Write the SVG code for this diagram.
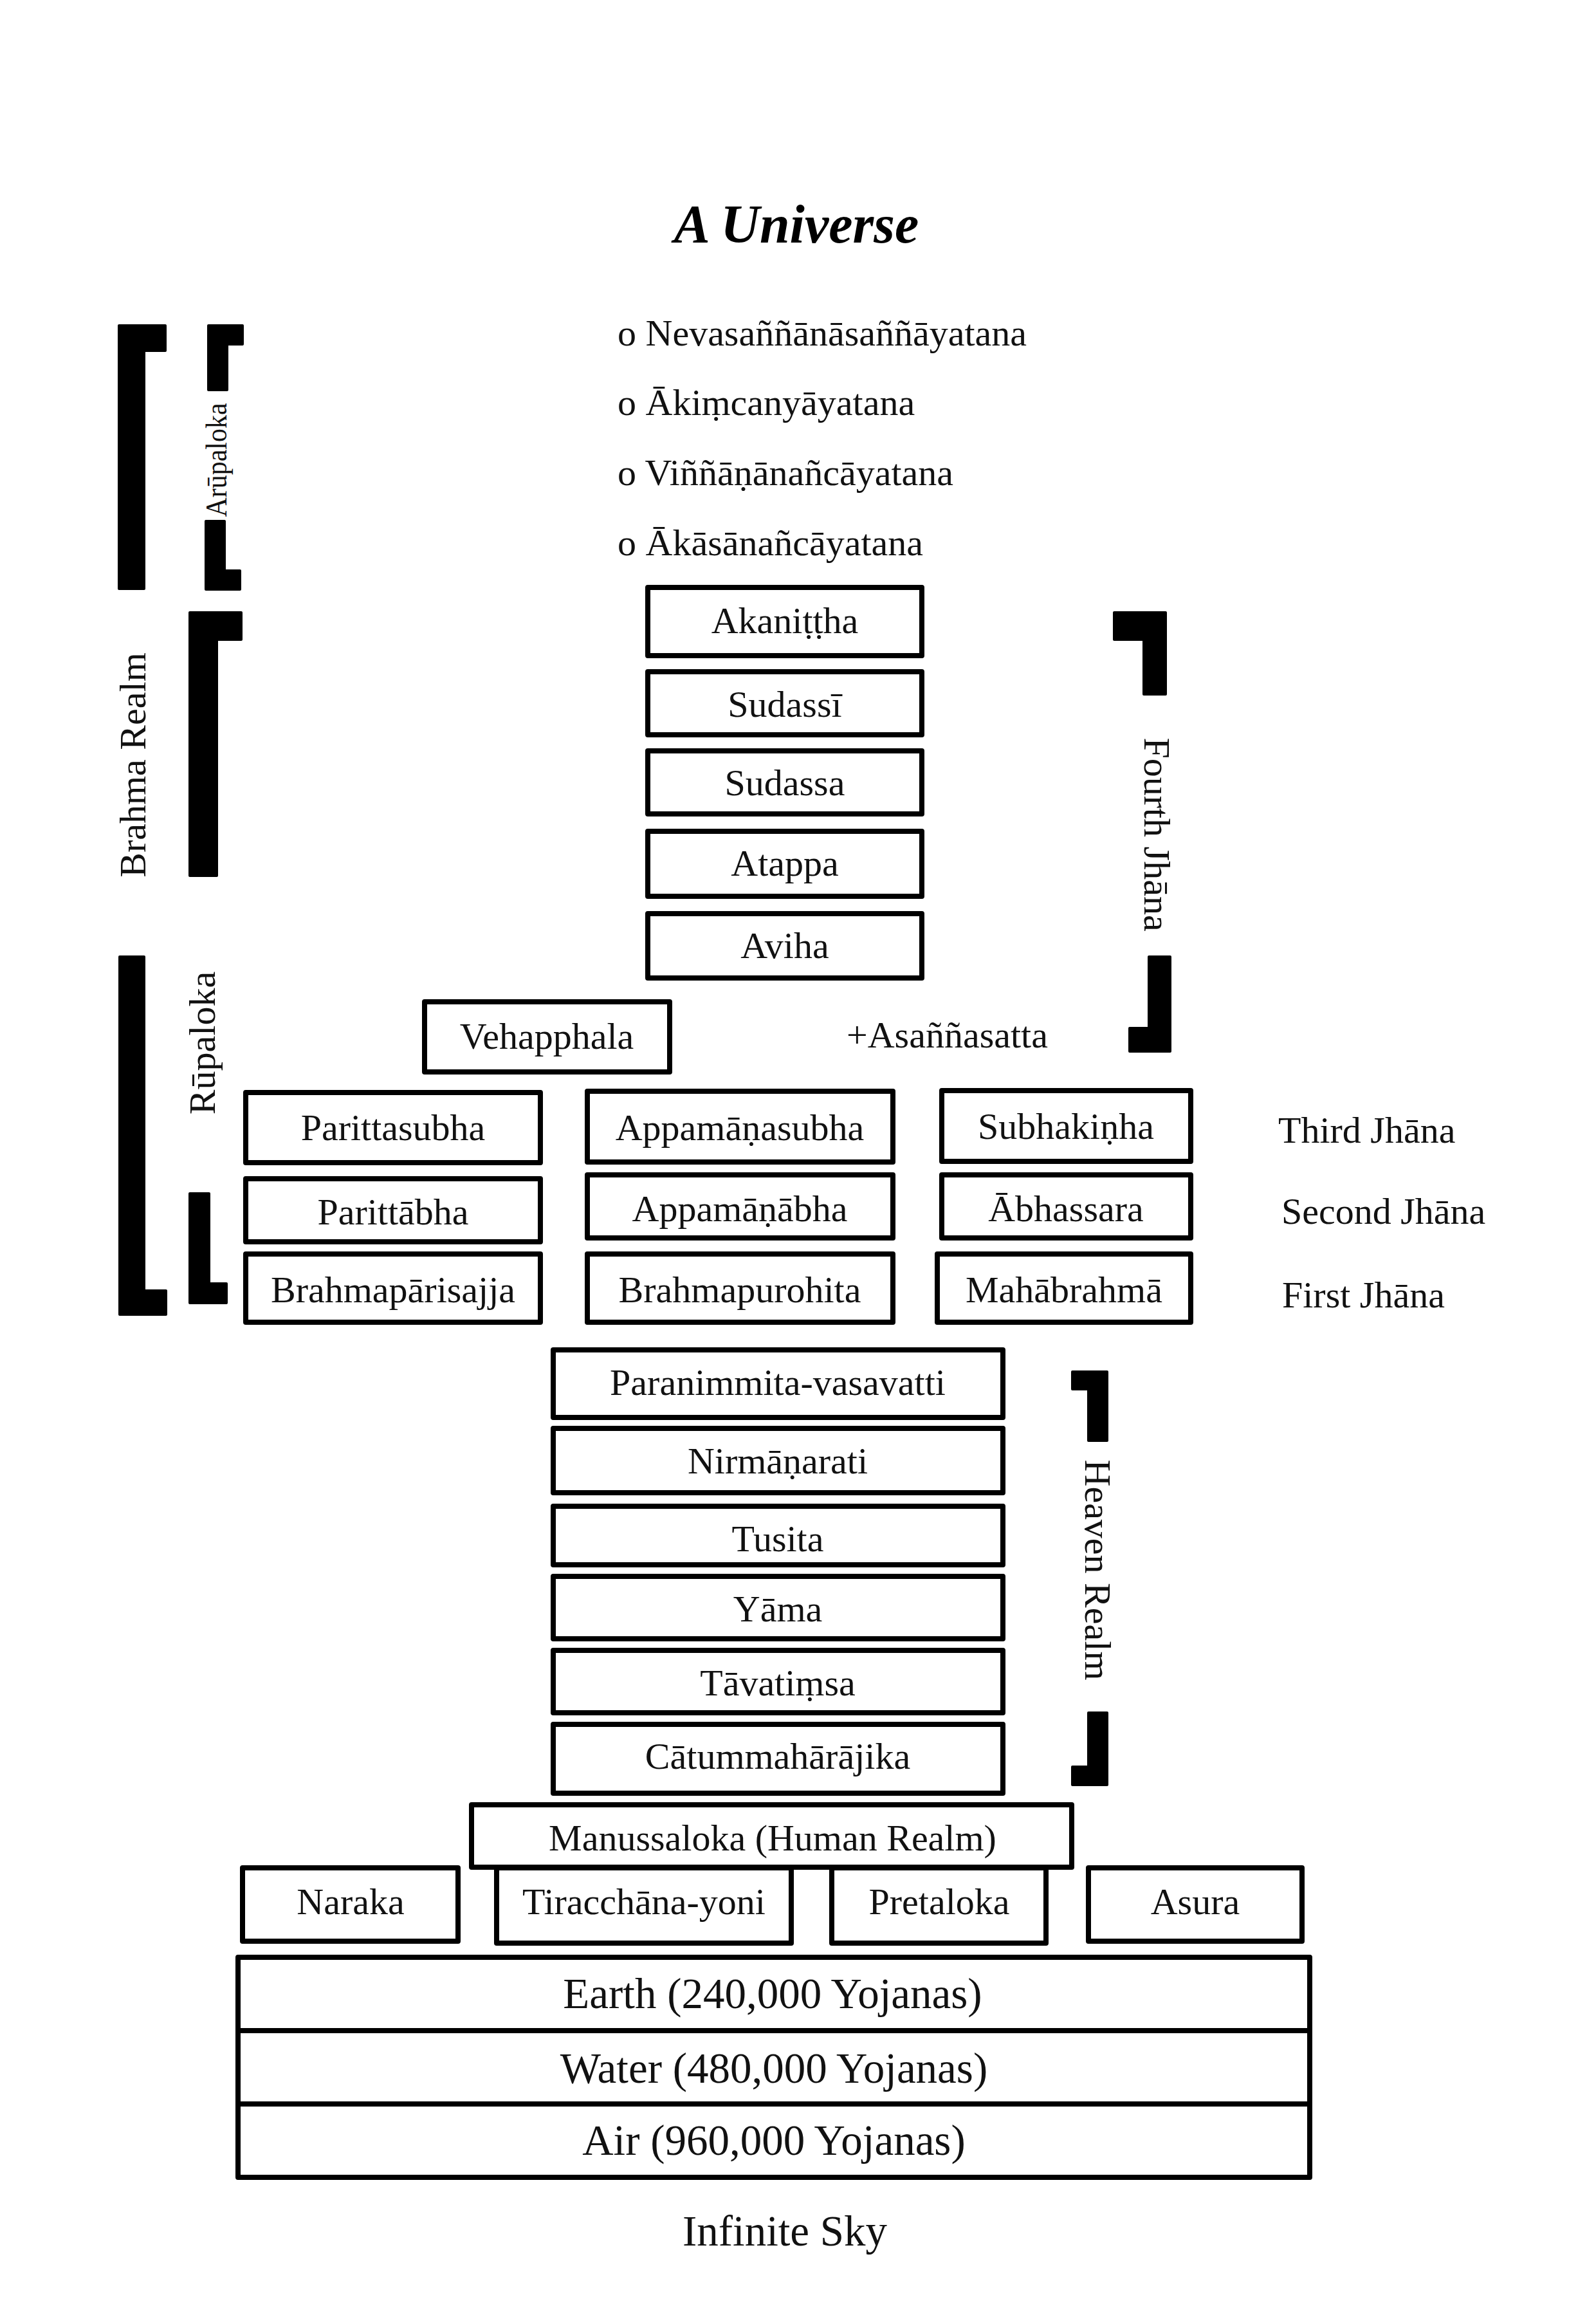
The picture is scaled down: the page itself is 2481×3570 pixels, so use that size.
<svg xmlns="http://www.w3.org/2000/svg" width="2481" height="3570" viewBox="0 0 2481 3570">
<style>
text{font-family:"Liberation Serif","Times New Roman",serif;fill:#111;font-size:58px}
.c{text-anchor:middle}
.big{font-size:67px}
.box{fill:#fff;stroke:#000;stroke-width:8;stroke-linejoin:round}
.br{fill:#000;stroke:#000;stroke-width:4;stroke-linejoin:round}
.title{font-size:84px;font-weight:bold;font-style:italic;text-anchor:middle;fill:#000}
</style>
<rect width="2481" height="3570" fill="#fff"/>
<text id="title" class="title" x="1238" y="377">A Universe</text>

<g id="arupa-list">
<text x="960" y="537">o Nevasaññānāsaññāyatana</text>
<text x="960" y="645">o Ākiṃcanyāyatana</text>
<text x="960" y="754">o Viññāṇānañcāyatana</text>
<text x="960" y="863">o Ākāsānañcāyatana</text>
</g>

<g id="brackets">
<polygon class="br" points="185,506 257,506 257,545 224,545 224,915 185,915"/>
<polygon class="br" points="324,506 377,506 377,535 353,535 353,606 324,606"/>
<polygon class="br" points="320,810 349,810 349,887 373,887 373,916 320,916"/>
<polygon class="br" points="295,952 375,952 375,994 337,994 337,1361 295,1361"/>
<polygon class="br" points="186,1487 224,1487 224,2006 258,2006 258,2043 186,2043"/>
<polygon class="br" points="295,1855 325,1855 325,1995 352,1995 352,2025 295,2025"/>
<polygon class="br" points="1732,952 1812,952 1812,1079 1778,1079 1778,994 1732,994"/>
<polygon class="br" points="1786,1487 1819,1487 1819,1634 1756,1634 1756,1598 1786,1598"/>
<polygon class="br" points="1667,2132 1721,2132 1721,2239 1692,2239 1692,2159 1667,2159"/>
<polygon class="br" points="1692,2662 1721,2662 1721,2774 1667,2774 1667,2746 1692,2746"/>
</g>

<g id="bracket-labels">
<text class="c" transform="translate(226,1189) rotate(-90)">Brahma Realm</text>
<text class="c" transform="translate(352,715) rotate(-90)" style="font-size:47px" textLength="177" lengthAdjust="spacingAndGlyphs">Arūpaloka</text>
<text class="c" transform="translate(334,1621) rotate(-90)">Rūpaloka</text>
<text class="c" transform="translate(1779,1297) rotate(90)">Fourth Jhāna</text>
<text class="c" transform="translate(1687,2440) rotate(90)">Heaven Realm</text>
</g>

<g id="akanittha"><rect class="box" x="1007" y="913" width="426" height="106"/><text class="c" x="1220" y="984">Akaniṭṭha</text></g>
<g id="sudassi"><rect class="box" x="1007" y="1044" width="426" height="98"/><text class="c" x="1220" y="1114">Sudassī</text></g>
<g id="sudassa"><rect class="box" x="1007" y="1167" width="426" height="98"/><text class="c" x="1220" y="1236">Sudassa</text></g>
<g id="atappa"><rect class="box" x="1007" y="1292" width="426" height="101"/><text class="c" x="1220" y="1361">Atappa</text></g>
<g id="aviha"><rect class="box" x="1007" y="1420" width="426" height="100"/><text class="c" x="1220" y="1489">Aviha</text></g>

<g id="vehapphala"><rect class="box" x="660" y="1557" width="381" height="109"/><text class="c" x="850" y="1630">Vehapphala</text></g>
<g id="asannasatta"><text x="1316" y="1628">+Asaññasatta</text></g>

<g id="parittasubha"><rect class="box" x="382" y="1698" width="458" height="109"/><text class="c" x="611" y="1772">Parittasubha</text></g>
<g id="appamanasubha"><rect class="box" x="913" y="1696" width="475" height="110"/><text class="c" x="1150" y="1772">Appamāṇasubha</text></g>
<g id="subhakinha"><rect class="box" x="1464" y="1695" width="387" height="110"/><text class="c" x="1657" y="1770">Subhakiṇha</text></g>
<g id="third-jhana"><text x="1987" y="1776">Third Jhāna</text></g>

<g id="parittabha"><rect class="box" x="382" y="1832" width="458" height="98"/><text class="c" x="611" y="1903">Parittābha</text></g>
<g id="appamanabha"><rect class="box" x="913" y="1826" width="475" height="98"/><text class="c" x="1150" y="1898">Appamāṇābha</text></g>
<g id="abhassara"><rect class="box" x="1464" y="1826" width="387" height="98"/><text class="c" x="1657" y="1898">Ābhassara</text></g>
<g id="second-jhana"><text x="1992" y="1902">Second Jhāna</text></g>

<g id="brahmaparisajja"><rect class="box" x="382" y="1949" width="458" height="106"/><text class="c" x="611" y="2024">Brahmapārisajja</text></g>
<g id="brahmapurohita"><rect class="box" x="913" y="1949" width="475" height="106"/><text class="c" x="1150" y="2024">Brahmapurohita</text></g>
<g id="mahabrahma"><rect class="box" x="1457" y="1949" width="394" height="106"/><text class="c" x="1654" y="2024">Mahābrahmā</text></g>
<g id="first-jhana"><text x="1993" y="2032">First Jhāna</text></g>

<g id="paranimmita"><rect class="box" x="860" y="2098" width="699" height="105"/><text class="c" x="1209" y="2168">Paranimmita-vasavatti</text></g>
<g id="nirmanarati"><rect class="box" x="860" y="2220" width="699" height="100"/><text class="c" x="1209" y="2290">Nirmāṇarati</text></g>
<g id="tusita"><rect class="box" x="860" y="2341" width="699" height="91"/><text class="c" x="1209" y="2411">Tusita</text></g>
<g id="yama"><rect class="box" x="860" y="2450" width="699" height="97"/><text class="c" x="1209" y="2520">Yāma</text></g>
<g id="tavatimsa"><rect class="box" x="860" y="2565" width="699" height="97"/><text class="c" x="1209" y="2635">Tāvatiṃsa</text></g>
<g id="catummaharajika"><rect class="box" x="860" y="2680" width="699" height="107"/><text class="c" x="1209" y="2749">Cātummahārājika</text></g>

<g id="naraka"><rect class="box" x="377" y="2903" width="335" height="114"/><text class="c" x="545" y="2975">Naraka</text></g>
<g id="tiracchana"><rect class="box" x="772" y="2903" width="458" height="117"/><text class="c" x="1001" y="2975">Tiracchāna-yoni</text></g>
<g id="pretaloka"><rect class="box" x="1293" y="2903" width="333" height="117"/><text class="c" x="1460" y="2975">Pretaloka</text></g>
<g id="asura"><rect class="box" x="1692" y="2903" width="332" height="114"/><text class="c" x="1858" y="2975">Asura</text></g>
<g id="manussaloka"><rect class="box" x="733" y="2805" width="933" height="97"/><text class="c" x="1201" y="2876">Manussaloka (Human Realm)</text></g>

<g id="earth"><rect class="box" x="370" y="3042" width="1666" height="114"/><text class="c big" x="1201" y="3121">Earth (240,000 Yojanas)</text></g>
<g id="water"><rect class="box" x="370" y="3156" width="1666" height="114"/><text class="c big" x="1203" y="3237">Water (480,000 Yojanas)</text></g>
<g id="air"><rect class="box" x="370" y="3270" width="1666" height="114"/><text class="c big" x="1203" y="3349">Air (960,000 Yojanas)</text></g>
<g id="infinite-sky"><text class="c big" x="1220" y="3490">Infinite Sky</text></g>
</svg>
